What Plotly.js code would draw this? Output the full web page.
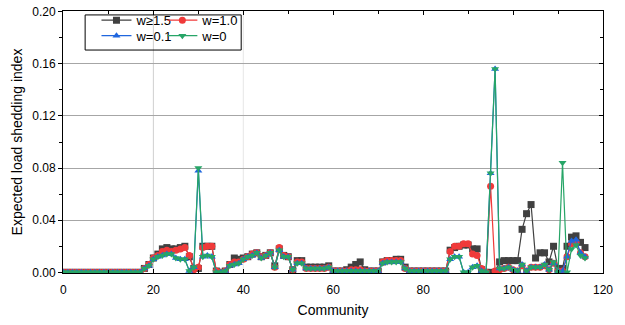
<!DOCTYPE html>
<html>
<head>
<meta charset="utf-8">
<script src="https://cdn.plot.ly/plotly-3.0.1.min.js"></script>
<style>html,body{margin:0;padding:0;background:#fff;}#chart{width:625px;height:325px;}</style>
</head>
<body>
<div id="chart"></div>
<script>
const community = [0,1,2,3,4,5,6,7,8,9,10,11,12,13,14,15,16,17,18,19,20,21,22,23,24,25,26,27,28,29,30,31,32,33,34,35,36,37,38,39,40,41,42,43,44,45,46,47,48,49,50,51,52,53,54,55,56,57,58,59,60,61,62,63,64,65,66,67,68,69,70,71,72,73,74,75,76,77,78,79,80,81,82,83,84,85,86,87,88,89,90,91,92,93,94,95,96,97,98,99,100,101,102,103,104,105,106,107,108,109,110,111,112,113,114,115,116];

const w15 = [0,0,0,0,0,0,0,0,0,0,0,0,0,0,0,0,0,0,
 0.003,0.006,0.011,0.014,0.018,0.019,0.018,0.018,0.019,0.020,0.012,0.003,0.003,0.020,0.020,0.020,0.001,0,0.001,0.006,0.011,0.010,
 0.011,0.012,0.014,0.015,0.012,0.013,0.015,0.005,0.018,0.013,0.012,0.002,0.009,0.009,0.004,0.004,0.004,0.004,0.004,0.005,
 0.001,0.001,0.001,0.002,0.004,0.006,0.008,0.002,0.001,0.001,0.001,0.008,0.009,0.009,0.010,0.010,0.004,0.001,0.001,0.001,
 0.001,0.001,0.001,0.001,0.001,0.001,0.017,0.019,0.020,0.021,0.021,0.018,0.018,0.002,0,0,0,0.008,0.009,0.009,
 0.009,0.009,0.033,0.045,0.052,0.011,0.015,0.015,0.008,0.020,0.003,0.003,0.020,0.027,0.028,0.023,0.019];

const w10 = [0,0,0,0,0,0,0,0,0,0,0,0,0,0,0,0,0,0,
 0.003,0.006,0.011,0.013,0.016,0.017,0.016,0.017,0.018,0.019,0.013,0.002,0.004,0.019,0.020,0.020,0.001,0,0.001,0.006,0.008,0.008,
 0.010,0.012,0.014,0.015,0.012,0.013,0.015,0.004,0.019,0.013,0.012,0.002,0.008,0.008,0.003,0.003,0.003,0.003,0.003,0.004,
 0.001,0.001,0.001,0.001,0.002,0.002,0.002,0.001,0.001,0.001,0.001,0.008,0.009,0.009,0.009,0.009,0.003,0.001,0.001,0.001,
 0.001,0.001,0.001,0.001,0.001,0.001,0.016,0.020,0.020,0.022,0.022,0.014,0.013,0.003,0,0.066,0.001,0.002,0.003,0.004,
 0.002,0.001,0.005,0.001,0.004,0.004,0.004,0.005,0.002,0.007,0.001,0.001,0.012,0.022,0.023,0.015,0.012];

const w01 = [0,0,0,0,0,0,0,0,0,0,0,0,0,0,0,0,0,0,
 0.003,0.005,0.010,0.012,0.013,0.014,0.014,0.011,0.010,0.010,0.001,0.004,0.078,0.012,0.013,0.012,0,0,0.001,0.005,0.006,0.007,
 0.010,0.012,0.013,0.015,0.011,0.013,0.015,0.004,0.017,0.012,0.012,0.002,0.007,0.007,0.003,0.003,0.003,0.003,0.003,0.004,
 0.001,0.001,0.001,0.001,0.001,0.001,0.001,0.001,0.001,0.001,0.001,0.007,0.008,0.008,0.008,0.008,0.003,0.001,0.001,0.001,
 0.001,0.001,0.001,0.001,0.001,0.001,0.010,0.012,0.012,0,0,0.004,0.005,0.001,0,0.076,0.156,0.003,0.003,0.004,
 0.002,0.001,0.006,0.001,0.004,0.004,0.004,0.006,0.002,0.007,0.001,0.001,0.012,0.024,0.025,0.015,0.012];

const w0 = [0,0,0,0,0,0,0,0,0,0,0,0,0,0,0,0,0,0,
 0.003,0.005,0.010,0.012,0.013,0.014,0.014,0.011,0.010,0.010,0.001,0.004,0.080,0.012,0.013,0.012,0,0,0.001,0.005,0.006,0.007,
 0.010,0.012,0.013,0.015,0.011,0.013,0.015,0.004,0.017,0.012,0.012,0.002,0.007,0.007,0.003,0.003,0.003,0.003,0.003,0.004,
 0.001,0.001,0.001,0.001,0.001,0.001,0.001,0.001,0.001,0.001,0.001,0.007,0.008,0.008,0.008,0.008,0.003,0.001,0.001,0.001,
 0.001,0.001,0.001,0.001,0.001,0.001,0.010,0.012,0.012,0,0,0.004,0.005,0.001,0,0.076,0.156,0.003,0.003,0.004,
 0.002,0.001,0.006,0.001,0.004,0.004,0.004,0.006,0.002,0.008,0,0.084,0,0.018,0.021,0.013,0.011];

const seriesNames = ['w≥1.5','w=1.0','w=0.1','w=0'];
const xTicks = [0,20,40,60,80,100,120];
const yTicks = [0,0.04,0.08,0.12,0.16,0.20];
const yTickText = ['0.00','0.04','0.08','0.12','0.16','0.20'];

const FONT = 'Liberation Sans, Arial, sans-serif';

function tr(y, name, color, symbol, size, legend) {
  return {
    type: 'scatter', mode: 'lines+markers', x: community, y: y, name: name,
    legend: legend,
    line: {color: color, width: 1.2},
    marker: {color: color, symbol: symbol, size: size, line: {width: 0}}
  };
}

const data = [
  tr(w15, seriesNames[0], '#404040', 'square', 7, 'legend'),
  tr(w10, seriesNames[1], '#f03a3a', 'circle', 7, 'legend2'),
  tr(w01, seriesNames[2], '#1f66de', 'triangle-up', 7, 'legend3'),
  tr(w0,  seriesNames[3], '#27a567', 'triangle-down', 7, 'legend4'),
  {type: 'scatter', x: [], y: [], yaxis: 'y2', xaxis: 'x2', showlegend: false, hoverinfo: 'skip'}
];

const YR = [-0.0005, 0.2005];
const XR = [-0.1, 120];

function leg(x, y) {
  return {
    orientation: 'h', x: x, y: y, xanchor: 'left', yanchor: 'top',
    bgcolor: 'rgba(0,0,0,0)', borderwidth: 0,
    font: {family: FONT, size: 13, color: '#000'},
    itemwidth: 30
  };
}

const layout = {
  width: 625, height: 325,
  margin: {l: 63, r: 22, t: 5, b: 52},
  paper_bgcolor: '#ffffff', plot_bgcolor: '#ffffff',
  font: {family: FONT, size: 12, color: '#000'},
  showlegend: true,
  xaxis: {
    range: XR, tickvals: xTicks, ticktext: xTicks.map(String),
    ticks: 'inside', ticklen: 4, tickcolor: '#000', tickwidth: 1,
    minor: {dtick: 10, tick0: 0, ticks: 'inside', ticklen: 3, tickcolor: '#000'},
    showline: true, linecolor: '#000', linewidth: 1,
    showgrid: false, zeroline: false, ticklabelstandoff: 6,
    tickfont: {family: FONT, size: 12, color: '#000'},
    title: {text: 'Community', font: {family: FONT, size: 14, color: '#000'}, standoff: 8}
  },
  xaxis2: {
    overlaying: 'x', side: 'top', anchor: 'y', range: XR, tickvals: xTicks,
    showticklabels: false, ticks: 'inside', ticklen: 4, tickcolor: '#000',
    minor: {dtick: 10, tick0: 0, ticks: 'inside', ticklen: 3, tickcolor: '#000'},
    showline: true, linecolor: '#000', linewidth: 1, showgrid: false, zeroline: false
  },
  yaxis: {
    range: YR, tickvals: yTicks, ticktext: yTickText,
    ticks: 'outside', ticklen: 4, tickcolor: '#000', tickwidth: 1,
    minor: {dtick: 0.02, tick0: 0, ticks: 'outside', ticklen: 3, tickcolor: '#000', showgrid: false},
    showline: true, linecolor: '#000', linewidth: 1,
    showgrid: true, gridcolor: '#a6a6a6', gridwidth: 1, zeroline: false,
    tickfont: {family: FONT, size: 12, color: '#000'},
    title: {text: 'Expected load shedding index', font: {family: FONT, size: 14, color: '#000'}, standoff: 6}
  },
  yaxis2: {
    overlaying: 'y', side: 'right', anchor: 'x', range: YR, tickvals: yTicks,
    showticklabels: false, ticks: 'inside', ticklen: 4, tickcolor: '#000',
    minor: {dtick: 0.02, tick0: 0, ticks: 'inside', ticklen: 3, tickcolor: '#000'},
    showline: true, linecolor: '#000', linewidth: 1, showgrid: false, zeroline: false
  },
  legend: leg(0.062, 1.022),
  legend2: leg(0.184, 1.022),
  legend3: leg(0.062, 0.963),
  legend4: leg(0.184, 0.963),
  shapes: [
    {type: 'line', xref: 'x', yref: 'paper', x0: 20, x1: 20, y0: 0, y1: 1, layer: 'below', line: {color: '#cfcfcf', width: 1}},
    {type: 'line', xref: 'x', yref: 'paper', x0: 40, x1: 40, y0: 0, y1: 1, layer: 'below', line: {color: '#e6e6e6', width: 1}},
    {type: 'rect', xref: 'paper', yref: 'paper', x0: 0.041, x1: 0.33, y0: 0.851, y1: 0.985, layer: 'above', line: {color: '#000', width: 1}, fillcolor: 'rgba(0,0,0,0)'}
  ]
};

Plotly.newPlot('chart', data, layout, {displayModeBar: false, staticPlot: true});
</script>
</body>
</html>
